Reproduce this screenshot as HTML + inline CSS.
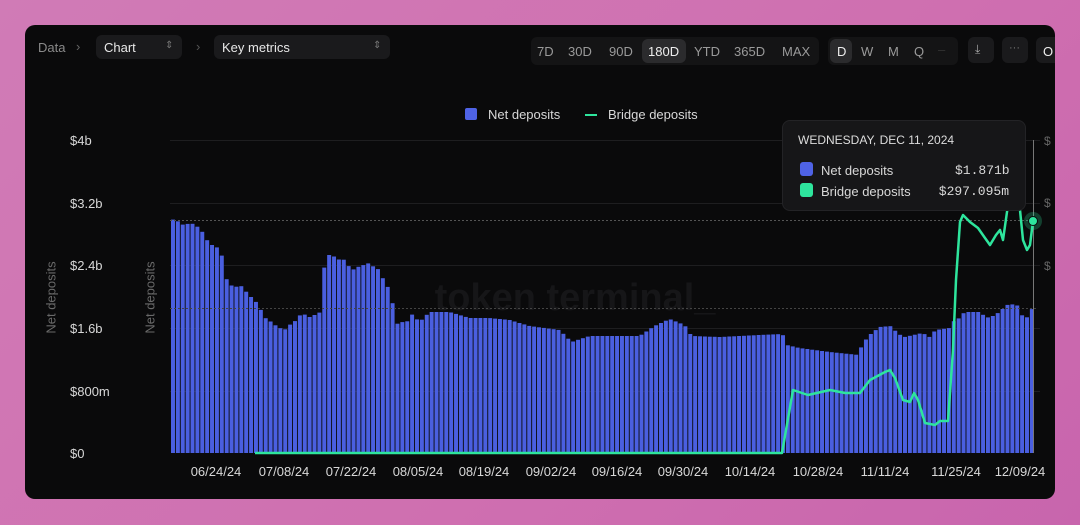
<!DOCTYPE html>
<html><head><meta charset="utf-8"><style>
body{margin:0;width:1080px;height:525px;background:linear-gradient(135deg,#d07bb6,#cf6fb0 60%,#c865ad);font-family:"Liberation Sans",sans-serif;overflow:hidden;position:relative}
.card{position:absolute;left:25px;top:25px;width:1030px;height:474px;background:#0a0a0b;border-radius:10px;overflow:hidden}
.t{position:absolute;font-size:13px;color:#d8d8d8;white-space:nowrap}
.btn{position:absolute;background:#1a1a1c;border-radius:6px;height:24px}
</style></head><body>
<div class="card">
<div class="btn" style="left:1011px;top:12px;width:26px;height:26px"></div>
<div class="t" style="left:1018px;top:19px;color:#eee">O</div>
</div>
<div class="t" style="left:38px;top:40px;color:#8a8a8a">Data</div>
<div class="t" style="left:76px;top:39px;color:#666">›</div>
<div class="btn" style="left:96px;top:35px;width:86px"></div>
<div class="t" style="left:104px;top:40px;color:#e8e8e8">Chart</div>
<div class="t" style="left:165px;top:40px;color:#777;font-size:10px">⇕</div>
<div class="t" style="left:196px;top:39px;color:#555">›</div>
<div class="btn" style="left:214px;top:35px;width:176px"></div>
<div class="t" style="left:222px;top:40px;color:#e8e8e8">Key metrics</div>
<div class="t" style="left:373px;top:40px;color:#777;font-size:10px">⇕</div>
<div class="btn" style="left:531px;top:37px;width:288px;height:28px;background:#141415"></div>
<div class="btn" style="left:642px;top:39px;width:44px;height:24px;background:#2b2b2d"></div>
<div class="t" style="left:537px;top:44px;color:#9a9a9a">7D</div>
<div class="t" style="left:568px;top:44px;color:#9a9a9a">30D</div>
<div class="t" style="left:609px;top:44px;color:#9a9a9a">90D</div>
<div class="t" style="left:648px;top:44px;color:#eee">180D</div>
<div class="t" style="left:694px;top:44px;color:#9a9a9a">YTD</div>
<div class="t" style="left:734px;top:44px;color:#9a9a9a">365D</div>
<div class="t" style="left:782px;top:44px;color:#9a9a9a">MAX</div>
<div class="btn" style="left:828px;top:37px;width:130px;height:28px;background:#141415"></div>
<div class="btn" style="left:830px;top:39px;width:22px;height:24px;background:#2b2b2d"></div>
<div class="t" style="left:837px;top:44px;color:#eee">D</div>
<div class="t" style="left:861px;top:44px;color:#9a9a9a">W</div>
<div class="t" style="left:888px;top:44px;color:#9a9a9a">M</div>
<div class="t" style="left:914px;top:44px;color:#9a9a9a">Q</div>
<div class="t" style="left:938px;top:42px;color:#333">–</div>
<div class="btn" style="left:968px;top:37px;width:26px;height:26px"></div>
<div class="t" style="left:975px;top:42px;color:#aaa;font-size:12px">⤓</div>
<div class="btn" style="left:1002px;top:37px;width:26px;height:26px"></div>
<div class="t" style="left:1009px;top:42px;color:#777;font-size:11px">···</div>

<div style="position:absolute;left:465px;top:108px;width:12px;height:12px;background:#4f63e6;border-radius:2px"></div>
<div class="t" style="left:488px;top:107px">Net deposits</div>
<div style="position:absolute;left:585px;top:114px;width:12px;height:2px;background:#2ee59d"></div>
<div class="t" style="left:608px;top:107px">Bridge deposits</div>

<div class="t" style="left:70px;top:133px">$4b</div>
<div class="t" style="left:70px;top:196px">$3.2b</div>
<div class="t" style="left:70px;top:258px">$2.4b</div>
<div class="t" style="left:70px;top:321px">$1.6b</div>
<div class="t" style="left:70px;top:384px">$800m</div>
<div class="t" style="left:70px;top:446px">$0</div>
<div class="t" style="left:11px;top:290px;transform:rotate(-90deg);color:#6a6a6a;width:80px;text-align:center">Net deposits</div>
<div class="t" style="left:110px;top:290px;transform:rotate(-90deg);color:#6a6a6a;width:80px;text-align:center">Net deposits</div>

<svg id="ch" width="1080" height="525" style="position:absolute;left:0;top:0">
<g stroke="#1e1e20" stroke-width="1">
<line x1="170" x2="1040" y1="140.5" y2="140.5"/><line x1="170" x2="1040" y1="203.5" y2="203.5"/>
<line x1="170" x2="1040" y1="265.5" y2="265.5"/><line x1="170" x2="1040" y1="328.5" y2="328.5"/>
<line x1="170" x2="1040" y1="391.5" y2="391.5"/></g>
<text x="575" y="310" font-size="38" fill="#161618" text-anchor="middle" font-family="Liberation Sans" font-weight="bold">token terminal_</text>
<g id="bars" fill="#4a5fe0"></g>
<line x1="170" x2="1036" y1="220.5" y2="220.5" stroke="#555" stroke-dasharray="2,2"/>
<line x1="170" x2="1036" y1="308.5" y2="308.5" stroke="#444" stroke-dasharray="2,2"/>
<line x1="1033.5" x2="1033.5" y1="140" y2="453" stroke="#777"/>
<polyline fill="none" stroke="#2ee59d" stroke-width="2.5" stroke-linejoin="round" points="255,453 782,453 793,390 808,395 830,390 845,393 860,393 870,380 885,372 890,370 895,378 903,400 910,402 914,393 918,400 925,423 935,425 940,421 948,421 953,350 956,280 960,222 963,215 970,222 978,228 985,238 990,245 996,235 1000,230 1003,240 1008,205 1012,185 1018,190 1023,240 1027,250 1030,245 1033,221"/>
<circle cx="1033" cy="221" r="9" fill="#2ee59d" opacity="0.25"/>
<circle cx="1033" cy="221" r="4.5" fill="#2ee59d" stroke="#0a0a0b" stroke-width="1"/>
<g font-size="13" fill="#d8d8d8" font-family="Liberation Sans" text-anchor="middle">
<text x="216" y="476">06/24/24</text><text x="284" y="476">07/08/24</text><text x="351" y="476">07/22/24</text>
<text x="418" y="476">08/05/24</text><text x="484" y="476">08/19/24</text><text x="551" y="476">09/02/24</text>
<text x="617" y="476">09/16/24</text><text x="683" y="476">09/30/24</text><text x="750" y="476">10/14/24</text>
<text x="818" y="476">10/28/24</text><text x="885" y="476">11/11/24</text><text x="956" y="476">11/25/24</text>
<text x="1020" y="476">12/09/24</text></g>
<g font-size="12" fill="#666"><text x="1044" y="145">$</text><text x="1044" y="207">$</text><text x="1044" y="270">$</text></g>
</svg>

<div style="position:absolute;left:782px;top:120px;width:244px;height:91px;background:#161618;border:1px solid #232326;border-radius:8px;box-sizing:border-box"></div>
<div class="t" style="left:798px;top:133px;font-size:12px;color:#ddd">WEDNESDAY, DEC 11, 2024</div>
<div style="position:absolute;left:800px;top:162px;width:13px;height:14px;background:#4f63e6;border-radius:3px"></div>
<div class="t" style="left:821px;top:163px">Net deposits</div>
<div class="t" style="left:955px;top:163px;font-family:'Liberation Mono',monospace;width:54px;text-align:right">$1.871b</div>
<div style="position:absolute;left:800px;top:183px;width:13px;height:14px;background:#2ee59d;border-radius:3px"></div>
<div class="t" style="left:821px;top:184px">Bridge deposits</div>
<div class="t" style="left:935px;top:184px;font-family:'Liberation Mono',monospace;width:74px;text-align:right">$297.095m</div>

<script>
var k=[[172,221],[175,218],[180,223],[186,226],[190,222],[195,225],[200,228],[205,235],[210,245],[215,245],[220,250],[224,260],[226,277],[230,285],[238,287],[243,286],[250,297],[253,297],[260,307],[264,316],[268,320],[272,322],[278,327],[285,330],[290,325],[297,320],[302,313],[310,317],[315,315],[321,312],[324,300],[325,255],[333,255],[338,260],[343,258],[348,265],[353,270],[358,267],[362,266],[368,263],[373,266],[380,270],[384,280],[390,290],[393,303],[397,324],[403,322],[406,328],[410,312],[415,317],[420,322],[430,312],[450,312],[470,318],[490,318],[510,320],[530,326],[560,330],[572,342],[590,336],[610,336],[640,336],[655,326],[670,319],[685,325],[692,336],[720,337],[760,335],[783,334],[787,345],[800,348],[830,352],[860,355],[862,345],[870,335],[880,327],[893,326],[897,333],[905,337],[923,333],[930,337],[936,330],[950,328],[955,320],[960,318],[965,312],[980,312],[985,316],[990,318],[1000,312],[1007,305],[1017,304],[1022,315],[1027,318],[1033,308]];
function f(x){for(var i=0;i<k.length-1;i++){if(x<=k[i+1][0]){var a=k[i],b=k[i+1];return a[1]+(b[1]-a[1])*(x-a[0])/(b[0]-a[0]);}}return k[k.length-1][1];}
var g=document.getElementById('bars'),s='';var w=4.88;
for(var i=0;i<177;i++){var x=171+i*w;var y=f(x+w/2);s+='<rect x="'+x.toFixed(2)+'" y="'+y.toFixed(1)+'" width="'+(w-0.9).toFixed(2)+'" height="'+(453-y).toFixed(1)+'"/>';}
g.innerHTML=s;
</script>
</body></html>
